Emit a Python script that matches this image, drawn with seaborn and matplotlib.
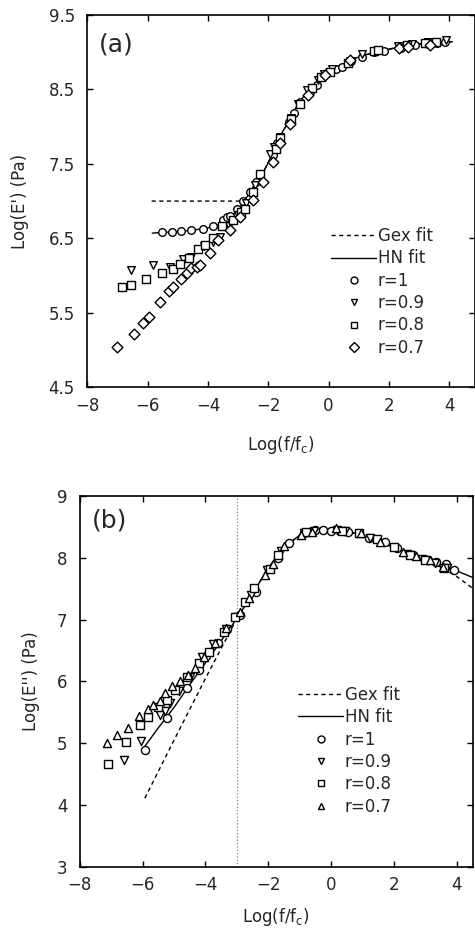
import matplotlib
matplotlib.use("Agg")
import matplotlib.pyplot as plt
from matplotlib.lines import Line2D
import seaborn as sns
import pandas as pd

# ---- panel (a): storage modulus E' ----
hn_a_x = [-5.85, -5.5, -5.0, -4.5, -4.0, -3.6, -3.3, -3.0, -2.8, -2.5, -2.2, -1.9, -1.7, -1.5, -1.3,
          -1.1, -0.9, -0.7, -0.5, -0.3, -0.1, 0.1, 0.3, 0.6, 0.9, 1.2, 1.6, 2.0, 2.5, 3.0, 3.5, 4.1]
hn_a_y = [6.57, 6.58, 6.59, 6.61, 6.64, 6.69, 6.77, 6.88, 7.0, 7.19, 7.36, 7.6, 7.79, 7.95, 8.08,
          8.24, 8.37, 8.46, 8.55, 8.63, 8.70, 8.76, 8.80, 8.87, 8.92, 8.96, 9.01, 9.04, 9.08, 9.11, 9.13, 9.14]
gex_a_x = [-5.87, -4.5, -3.05, -2.8, -2.5, -2.2, -1.9, -1.7, -1.5, -1.3, -1.1, -0.9, -0.7, -0.5, -0.3,
           -0.1, 0.1, 0.3, 0.6, 0.9, 1.2, 1.6, 2.0, 2.5, 3.0, 3.5, 4.1]
gex_a_y = [7.0, 7.0, 7.0, 7.0, 7.19, 7.36, 7.6, 7.79, 7.95, 8.08, 8.24, 8.37, 8.46, 8.55, 8.63,
           8.70, 8.76, 8.80, 8.87, 8.92, 8.96, 9.01, 9.04, 9.08, 9.11, 9.13, 9.14]

r1_a_x = [-5.54, -5.21, -4.88, -4.55, -4.16, -3.83, -3.50, -3.38, -3.28, -3.05, -2.83, -2.6, -2.4, -1.85,
          -1.7, -1.3, -1.15, -0.95, -0.62, -0.4, -0.05, 0.25, 0.45, 0.75, 1.1, 1.5, 1.85, 2.4, 2.85, 3.3, 3.6, 3.85]
r1_a_y = [6.58, 6.59, 6.60, 6.61, 6.63, 6.66, 6.74, 6.78, 6.80, 6.90, 7.00, 7.12, 7.25, 7.62,
          7.78, 8.06, 8.18, 8.33, 8.47, 8.56, 8.72, 8.77, 8.80, 8.88, 8.93, 9.00, 9.02, 9.06, 9.10, 9.11, 9.12, 9.13]
r09_a_x = [-6.56, -5.81, -5.25, -4.84, -4.55, -4.14, -3.85, -3.61, -3.3, -3.0, -2.75, -2.45, -1.95, -1.8,
           -1.6, -1.25, -1.0, -0.7, -0.35, -0.15, 0.1, 0.7, 1.1, 1.6, 2.3, 2.75, 3.3, 3.9]
r09_a_y = [6.07, 6.14, 6.12, 6.22, 6.25, 6.40, 6.45, 6.52, 6.66, 6.82, 6.98, 7.22, 7.63, 7.72,
           7.86, 8.12, 8.30, 8.49, 8.62, 8.70, 8.77, 8.88, 8.98, 9.02, 9.08, 9.11, 9.14, 9.16]
r08_a_x = [-6.86, -6.55, -6.04, -5.52, -5.17, -4.93, -4.62, -4.32, -4.10, -3.83, -3.52, -3.17, -2.9, -2.78,
           -2.50, -2.28, -1.75, -1.6, -1.25, -0.95, -0.55, -0.25, 0.05, 0.65, 1.5, 1.65, 2.6, 3.2, 3.55]
r08_a_y = [5.85, 5.87, 5.95, 6.04, 6.09, 6.15, 6.23, 6.36, 6.41, 6.50, 6.66, 6.74, 6.85, 6.90,
           7.12, 7.36, 7.70, 7.85, 8.10, 8.30, 8.52, 8.66, 8.74, 8.86, 9.02, 9.03, 9.10, 9.12, 9.13]
r07_a_x = [-7.01, -6.44, -6.15, -5.95, -5.59, -5.28, -5.15, -4.88, -4.71, -4.55, -4.38, -4.27, -3.94, -3.66,
           -3.28, -2.94, -2.50, -2.17, -1.84, -1.62, -1.29, -0.68, -0.13, 0.70, 2.35, 2.63, 3.35]
r07_a_y = [5.04, 5.22, 5.36, 5.45, 5.65, 5.79, 5.85, 5.96, 6.03, 6.10, 6.12, 6.14, 6.30, 6.48,
           6.61, 6.79, 7.01, 7.26, 7.53, 7.78, 8.04, 8.42, 8.69, 8.90, 9.05, 9.07, 9.10]

# ---- panel (b): loss modulus E'' ----
hn_b_x = [-5.93, -5.5, -5.0, -4.5, -4.0, -3.5, -3.0, -2.5, -2.0, -1.5, -1.0, -0.5, 0.0, 0.5, 1.0,
          1.5, 2.0, 2.5, 3.0, 3.5, 4.0, 4.53]
hn_b_y = [4.95, 5.25, 5.58, 5.95, 6.30, 6.66, 7.02, 7.42, 7.84, 8.17, 8.37, 8.45, 8.46, 8.43, 8.37,
          8.27, 8.17, 8.06, 7.96, 7.88, 7.79, 7.68]
gex_b_x = [-5.93, -5.0, -4.0, -3.0, -2.5, -2.0, -1.5, -1.0, -0.5, 0.0, 0.5, 1.0,
           1.5, 2.0, 2.5, 3.0, 3.5, 4.0, 4.53]
gex_b_y = [4.11, 5.05, 6.05, 7.02, 7.42, 7.84, 8.17, 8.37, 8.45, 8.46, 8.43, 8.37,
           8.27, 8.17, 8.06, 7.96, 7.85, 7.70, 7.50]

r1_b_x = [-5.93, -5.24, -4.60, -4.20, -3.97, -3.6, -3.3, -2.9, -2.4, -1.7, -1.35, -0.85, -0.5, -0.25,
          0.0, 0.4, 0.55, 1.2, 1.7, 2.1, 2.6, 3.1, 3.35, 3.65, 3.9]
r1_b_y = [4.89, 5.41, 5.89, 6.18, 6.41, 6.62, 6.85, 7.08, 7.45, 8.0, 8.25, 8.40, 8.46, 8.46,
          8.43, 8.44, 8.42, 8.33, 8.26, 8.16, 8.05, 7.97, 7.93, 7.90, 7.81]
r09_b_x = [-6.60, -6.04, -5.45, -5.29, -5.13, -4.85, -4.5, -4.1, -3.75, -3.35, -3.0, -2.55, -2.05, -1.6,
           -0.85, -0.55, 0.2, 0.45, 1.25, 2.4, 2.9, 3.3, 3.7]
r09_b_y = [4.73, 5.03, 5.46, 5.52, 5.65, 5.85, 6.08, 6.40, 6.60, 6.85, 7.05, 7.40, 7.80, 8.12,
           8.40, 8.43, 8.46, 8.44, 8.33, 8.07, 7.98, 7.92, 7.83]
r08_b_x = [-7.10, -6.54, -6.09, -5.82, -5.51, -5.24, -4.97, -4.6, -4.2, -3.9, -3.4, -3.05, -2.75, -2.45,
           -1.95, -1.7, -0.8, 0.35, 0.9, 1.45, 2.0, 2.5, 3.0, 3.6]
r08_b_y = [4.66, 5.02, 5.30, 5.43, 5.59, 5.70, 5.86, 6.08, 6.30, 6.48, 6.80, 7.05, 7.28, 7.52,
           7.82, 8.05, 8.42, 8.43, 8.40, 8.30, 8.17, 8.05, 7.97, 7.83]
r07_b_x = [-7.13, -6.83, -6.46, -6.11, -5.82, -5.66, -5.45, -5.29, -5.08, -4.82, -4.55, -4.34, -4.05, -3.7,
           -3.35, -2.9, -2.6, -2.1, -1.85, -1.5, -0.95, -0.6, 0.15, 0.95, 1.55, 2.3, 2.7, 3.15, 3.55]
r07_b_y = [5.01, 5.13, 5.25, 5.44, 5.55, 5.62, 5.69, 5.81, 5.92, 6.0, 6.11, 6.22, 6.40, 6.62,
           6.86, 7.12, 7.35, 7.72, 7.90, 8.20, 8.38, 8.42, 8.49, 8.40, 8.26, 8.10, 8.04, 7.97, 7.86]

labels_r = ["r=1", "r=0.9", "r=0.8", "r=0.7"]

sns.set_style("ticks")
plt.rcParams["font.family"] = ["DejaVu Sans"]
plt.rcParams["axes.linewidth"] = 1.2

fig = plt.figure(figsize=(4.75, 9.31), dpi=100)
ax_a = fig.add_axes([0.184, 0.584, 0.815, 0.400])
ax_b = fig.add_axes([0.168, 0.069, 0.828, 0.398])

dash = (0, (3, 2.5))


def draw_panel(ax, hn, gex, series, markers, msize):
    sns.lineplot(x=gex[0], y=gex[1], ax=ax, color="black", lw=1.0, linestyle=dash, sort=False)
    sns.lineplot(x=hn[0], y=hn[1], ax=ax, color="black", lw=1.0, sort=False)
    for (sx, sy), m in zip(series, markers):
        df = pd.DataFrame({"x": sx, "y": sy})
        sns.scatterplot(data=df, x="x", y="y", ax=ax, marker=m, s=msize,
                        facecolor="white", edgecolor="black", linewidth=1.0, zorder=3)
    handles = [Line2D([], [], color="black", lw=1.0, linestyle=dash),
               Line2D([], [], color="black", lw=1.0)]
    for m in markers:
        handles.append(Line2D([], [], marker=m, linestyle="none", markersize=5,
                              markerfacecolor="white", markeredgecolor="black", markeredgewidth=1.0))
    return handles


h_a = draw_panel(ax_a, (hn_a_x, hn_a_y), (gex_a_x, gex_a_y),
                 [(r1_a_x, r1_a_y), (r09_a_x, r09_a_y), (r08_a_x, r08_a_y), (r07_a_x, r07_a_y)],
                 ["o", "v", "s", "D"], 30)
h_b = draw_panel(ax_b, (hn_b_x, hn_b_y), (gex_b_x, gex_b_y),
                 [(r1_b_x, r1_b_y), (r09_b_x, r09_b_y), (r08_b_x, r08_b_y), (r07_b_x, r07_b_y)],
                 ["o", "v", "s", "^"], 34)

ax_b.axvline(-3, color="gray", lw=0.9, linestyle=":", zorder=1)

leg_labels = ["Gex fit", "HN fit"] + labels_r
for ax, h, anchor in [(ax_a, h_a, (0.63, 0.43)), (ax_b, h_b, (0.555, 0.488))]:
    ax.legend(h, leg_labels, loc="upper left", bbox_to_anchor=anchor, frameon=False,
              handlelength=2.7, handletextpad=0.1, labelspacing=0.26, borderpad=0,
              borderaxespad=0, fontsize=12)

ax_a.set_xlim(-8, 4.84)
ax_a.set_ylim(4.5, 9.5)
ax_a.set_yticks([4.5, 5.5, 6.5, 7.5, 8.5, 9.5])
ax_a.set_ylabel("Log(E') (Pa)", fontsize=12, labelpad=14)
ax_a.text(0.03, 0.92, "(a)", transform=ax_a.transAxes, fontsize=18, va="center", ha="left")
ax_a.set_xlabel("Log(f/f$_\\mathregular{c}$)", fontsize=12, labelpad=14)

ax_b.set_xlim(-8, 4.52)
ax_b.set_ylim(3, 9)
ax_b.set_yticks(range(3, 10))
ax_b.set_ylabel("Log(E'') (Pa)", fontsize=12, labelpad=12)
ax_b.text(0.03, 0.934, "(b)", transform=ax_b.transAxes, fontsize=18, va="center", ha="left")
ax_b.set_xlabel("Log(f/f$_\\mathregular{c}$)", fontsize=12, labelpad=8)

for ax in (ax_a, ax_b):
    ax.set_xticks(range(-8, 5, 2))
    ax.set_xticklabels(["\u22128", "\u22126", "\u22124", "\u22122", "0", "2", "4"])
    ax.tick_params(direction="in", length=4, width=1.0, top=True, right=True,
                   labelsize=12, color="black")
    ax.tick_params(axis="y", pad=9)
    ax.tick_params(axis="x", pad=7)
    for sp in ax.spines.values():
        sp.set_visible(True)
        sp.set_color("black")

fig.savefig("out.png", dpi=100)
